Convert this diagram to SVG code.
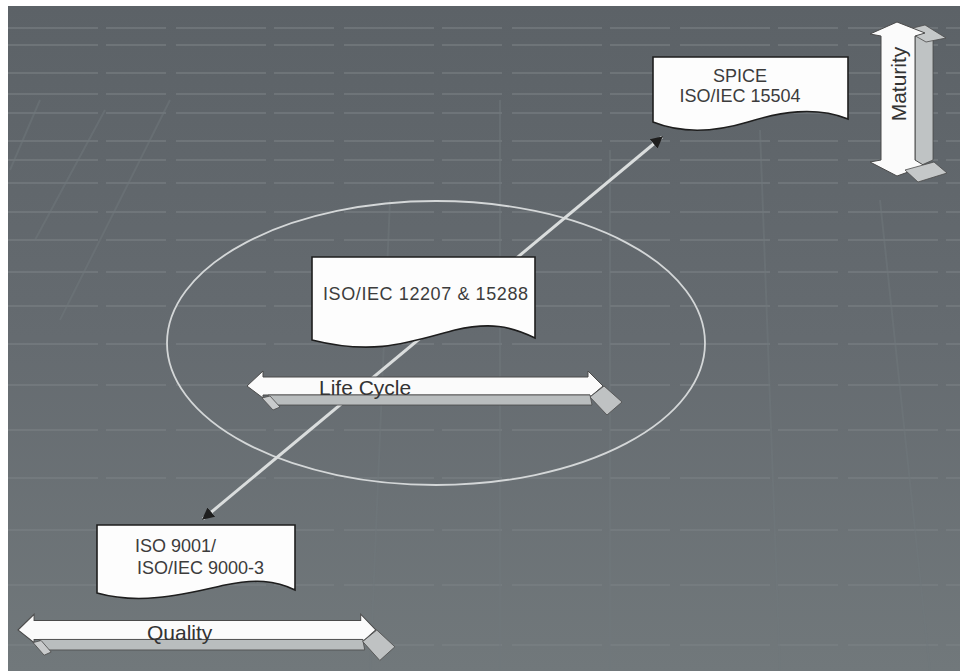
<svg xmlns="http://www.w3.org/2000/svg" width="960" height="671" viewBox="0 0 960 671">
<defs>
<linearGradient id="bg" x1="0" y1="0" x2="0" y2="1">
<stop offset="0" stop-color="#5c6267"/>
<stop offset="0.5" stop-color="#656b70"/>
<stop offset="1" stop-color="#71787b"/>
</linearGradient>
<marker id="ah" viewBox="0 0 10 10" refX="9" refY="5" markerWidth="4" markerHeight="4" orient="auto-start-reverse" markerUnits="strokeWidth">
<path d="M0,0 L10,5 L0,10 Z" fill="#1e1e1e"/>
</marker>
<g id="harrow">
<path d="M0,0 L16,-15 L16,-9 L341,-9 L341,-15 L356,0 L343,11 L343,9 L16,9 L16,12 Z" fill="#fbfbfb" stroke="#4a4a4a" stroke-width="1"/>
<path d="M21,9 L343,9 L345,19 L25,19 Z" fill="#b9bdbe" stroke="#4a4a4a" stroke-width="0.8"/>
<path d="M15,12 L23,10 L33,21 L26,24 Z" fill="#c9cbcc" stroke="#4a4a4a" stroke-width="0.8"/>
<path d="M343,11 L357,0 L375,16 L360,29 Z" fill="#bfc2c3" stroke="#4a4a4a" stroke-width="0.8"/>
</g>
</defs>
<style>
.doc{fill:#fdfdfd;stroke:#1e1e1e;stroke-width:1.6}
.t{font-family:"Liberation Sans",Arial,sans-serif;font-size:18px;fill:#3c3c3c}
.tb{font-family:"Liberation Sans",Arial,sans-serif;font-size:21px;fill:#333}
.grid{stroke:#7c8286;stroke-width:2;stroke-dasharray:90 8 60 10;opacity:0.55}
.vgrid{stroke:#70777b;stroke-width:2;opacity:0.5;fill:none}
</style>
<rect x="0" y="0" width="960" height="671" fill="#ffffff"/>
<rect x="8" y="6" width="952" height="665" fill="url(#bg)"/>
<g id="background-grid">
<line class="grid" x1="8" y1="28" x2="960" y2="28"/>
<line class="grid" x1="8" y1="45" x2="960" y2="45"/>
<line class="grid" x1="8" y1="73" x2="960" y2="73"/>
<line class="grid" x1="8" y1="94" x2="960" y2="94"/>
<line class="grid" x1="8" y1="113" x2="960" y2="113"/>
<line class="grid" x1="8" y1="141" x2="960" y2="141"/>
<line class="grid" x1="8" y1="160" x2="960" y2="160"/>
<line class="grid" x1="8" y1="183" x2="960" y2="183"/>
<line class="grid" x1="8" y1="212" x2="960" y2="212"/>
<line class="grid" x1="8" y1="240" x2="960" y2="240"/>
<line class="grid" x1="8" y1="272" x2="960" y2="272"/>
<line class="grid" x1="8" y1="306" x2="960" y2="306"/>
<line class="grid" x1="8" y1="344" x2="960" y2="344"/>
<line class="grid" x1="8" y1="385" x2="960" y2="385"/>
<line class="grid" x1="8" y1="430" x2="960" y2="430"/>
<line class="grid" x1="8" y1="478" x2="960" y2="478"/>
<line class="grid" x1="8" y1="530" x2="960" y2="530"/>
<line class="grid" x1="8" y1="585" x2="960" y2="585"/>
<line class="grid" x1="8" y1="645" x2="960" y2="645"/>
<path class="vgrid" d="M40,100 L10,170 M105,110 L35,240 M170,100 L60,320 M500,100 L500,671 M610,150 L610,671 M760,130 L780,671 M880,200 L930,671 M390,200 L370,671"/>
</g>
<g id="ellipse">
<ellipse cx="436" cy="343" rx="269" ry="142" fill="none" stroke="#d4d7d8" stroke-width="1.8"/>
</g>
<g id="connectors">
<line x1="662" y1="137" x2="203" y2="519" stroke="#dadddd" stroke-width="3" marker-start="url(#ah)" marker-end="url(#ah)"/>
</g>
<g id="node-spice">
<path class="doc" d="M653,57 H848 V119 C815,106 780,112 748,122 C715,132 683,134 653,122 Z"/>
<text class="t" x="740" y="82" text-anchor="middle">SPICE</text>
<text class="t" x="740" y="102" text-anchor="middle">ISO/IEC 15504</text>
</g>
<g id="node-12207">
<path class="doc" d="M312,257 H535 V338 C510,326 490,322 455,330 C410,342 375,356 312,340 Z"/>
<text class="t" x="323" y="300" textLength="205" lengthAdjust="spacing">ISO/IEC 12207 &amp; 15288</text>
</g>
<g id="node-9001">
<path class="doc" d="M97,525 H295 V590 C275,580 255,579 225,585 C180,595 140,605 97,593 Z"/>
<text class="t" x="135" y="552">ISO 9001/</text>
<text class="t" x="137" y="574">ISO/IEC 9000-3</text>
</g>
<g id="arrow-lifecycle">
<use href="#harrow" transform="translate(247,386)"/>
<text class="tb" x="319" y="395">Life Cycle</text>
</g>
<g id="arrow-quality">
<use href="#harrow" transform="translate(18,630) scale(1.005,1.05)"/>
<text class="tb" x="147" y="640">Quality</text>
</g>
<g id="arrow-maturity">
<path d="M915,36 L933,30 L933,160 L915,168 Z" fill="#bfc3c4" stroke="#4a4a4a" stroke-width="0.8"/>
<path d="M905,30 L925,25 L946,38 L926,42 Z" fill="#c5c8c9" stroke="#4a4a4a" stroke-width="0.8"/>
<path d="M870,34 L897,22 L925,33 L915,36 L915,160 L925,166 L897,176 L870,162 L881,160 L881,36 Z" fill="#fbfbfb" stroke="#4a4a4a" stroke-width="1"/>
<path d="M905,170 L934,162 L947,173 L918,182 Z" fill="#c5c8c9" stroke="#4a4a4a" stroke-width="0.8"/>
<text class="tb" x="0" y="0" transform="translate(906,84) rotate(-90)" text-anchor="middle" font-size="19">Maturity</text>
</g>
</svg>
